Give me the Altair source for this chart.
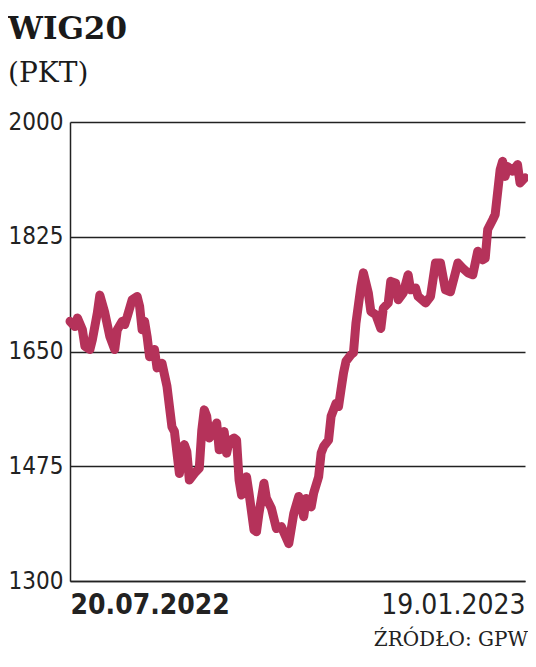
import altair as alt
import pandas as pd

# Days since 20.07.2022 and WIG20 values (points)
days = [0, 2, 3, 5, 6, 8, 9, 11, 12, 14,
        16, 18, 19, 21, 22, 23, 25, 27, 28, 29,
        30, 31, 32, 34, 35, 37, 39, 40, 41, 42,
        44, 46, 47, 48, 50, 52, 53, 54, 55, 56,
        57, 59, 60, 62, 63, 64, 66, 67, 68, 69,
        71, 72, 74, 75, 76, 78, 79, 81, 83, 85,
        88, 90, 92, 94, 95, 97, 98, 100, 101, 102,
        104, 105, 107, 108, 109, 110, 111, 113, 114, 115,
        117, 118, 120, 121, 123, 125, 126, 128, 129, 131,
        132, 134, 136, 137, 139, 140, 143, 145, 147, 149,
        151, 153, 155, 156, 158, 160, 162, 164, 166, 167,
        168, 170, 171, 173, 174, 175, 176, 178, 180, 181, 183]
values = [1696, 1688, 1701, 1683, 1658, 1653, 1668, 1709, 1736, 1709,
          1673, 1653, 1683, 1696, 1691, 1703, 1729, 1734, 1719, 1683,
          1696, 1673, 1642, 1653, 1625, 1632, 1597, 1566, 1535, 1528,
          1464, 1508, 1497, 1454, 1464, 1472, 1530, 1561, 1551, 1518,
          1523, 1541, 1500, 1528, 1495, 1513, 1518, 1515, 1454, 1431,
          1459, 1434, 1378, 1375, 1403, 1449, 1426, 1411, 1380, 1383,
          1357, 1403, 1429, 1398, 1426, 1413, 1434, 1459, 1495, 1505,
          1515, 1551, 1571, 1566, 1592, 1617, 1635, 1645, 1648, 1693,
          1749, 1770, 1739, 1711, 1706, 1685, 1716, 1724, 1757, 1754,
          1729, 1739, 1767, 1744, 1747, 1734, 1724, 1734, 1785, 1785,
          1744, 1741, 1770, 1785, 1777, 1770, 1767, 1803, 1790, 1792,
          1836, 1851, 1859, 1927, 1940, 1917, 1932, 1925, 1935, 1907, 1915]
y_ticks = [1300, 1475, 1650, 1825, 2000]
start_date = "2022-07-20"
title_text = "WIG20"
unit_text = "(PKT)"
source_text = "ŹRÓDŁO: GPW"

df = pd.DataFrame({
    "date": pd.Timestamp(start_date) + pd.to_timedelta(days, unit="D"),
    "value": values,
})
src = pd.DataFrame({"t": [source_text]})

W, H = 455, 459
ink = "#222222"
red = "#B5325A"
num_font = "DejaVu Sans Condensed"

d0 = alt.DateTime(year=2022, month=7, date=20)
d1 = alt.DateTime(year=2023, month=1, date=19)

line = alt.Chart(df).mark_line(
    color=red, strokeWidth=9, strokeCap="round", strokeJoin="round"
).encode(
    x=alt.X("date:T",
            scale=alt.Scale(domain=[d0, d1]),
            axis=alt.Axis(
                values=[d0, d1],
                format="%d.%m.%Y", labelFlush=True, grid=False, ticks=False,
                domain=True, domainColor=ink, domainWidth=1.5,
                labelFont=num_font, labelFontSize=28, labelColor=ink,
                labelFontWeight={"condition": {"test": "datum.index == 0", "value": "bold"},
                                 "value": "normal"},
                labelLimit=400, labelPadding=10, title=None)),
    y=alt.Y("value:Q",
            scale=alt.Scale(domain=[1300, 2000], nice=False, zero=False),
            axis=alt.Axis(
                values=y_ticks, format="d", grid=True, gridColor=ink, gridWidth=1.5,
                domain=True, domainColor=ink, domainWidth=1.5, ticks=False,
                labelFont=num_font, labelFontSize=24, labelColor=ink,
                labelFontWeight="normal", labelPadding=7, title=None)),
)

source = alt.Chart(src).mark_text(
    align="right", baseline="alphabetic", font="DejaVu Serif", fontSize=20, color=ink
).encode(
    text="t:N", x=alt.value(W + 3), y=alt.value(H + 65)
)

chart = alt.layer(line, source).properties(
    width=W, height=H,
    autosize=alt.AutoSizeParams(type="none"),
    padding={"left": 62, "top": 114, "right": 3, "bottom": 70},
    title=alt.TitleParams(
        text=title_text, subtitle=unit_text, anchor="start", frame="bounds",
        font="DejaVu Serif", fontSize=31, fontWeight="bold", color="#1a1a1a",
        subtitleFont="DejaVu Serif", subtitleFontSize=28, subtitleColor="#1a1a1a",
        subtitlePadding=14, offset=21),
).configure_view(stroke=None)

chart.save("out.html", embed_options={"renderer": "svg", "actions": False})
